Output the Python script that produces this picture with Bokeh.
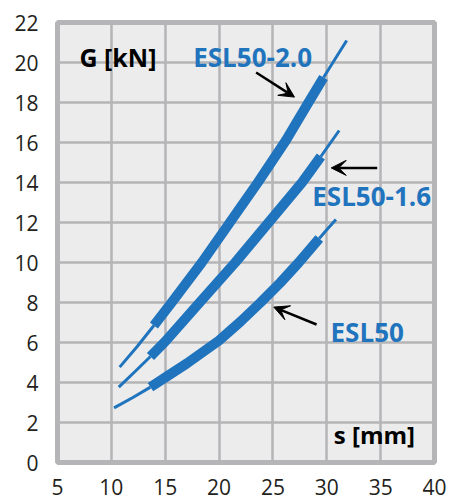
from bokeh.plotting import figure
from bokeh.models import FixedTicker, Arrow, VeeHead, Range1d
from bokeh.core.properties import value
from bokeh.embed import file_html
from bokeh.resources import INLINE

# ---- data ----
x_ticks = [5, 10, 15, 20, 25, 30, 35, 40]
y_ticks = [0, 2, 4, 6, 8, 10, 12, 14, 16, 18, 20, 22]

# ESL50-2.0 : thin start, thick (working range), thin end
s20_a = [10.77, 12.4, 13.95]
g20_a = [4.77, 5.8, 6.85]
s20_b = [13.95, 15.6, 18.4, 21.0, 23.6, 26.2, 28.3, 29.7]
g20_b = [6.85, 8.0, 10.0, 12.0, 14.0, 16.1, 18.0, 19.25]
s20_c = [29.7, 30.8, 31.85]
g20_c = [19.25, 20.2, 21.1]

# ESL50-1.6
s16_a = [10.69, 12.2, 13.63]
g16_a = [3.77, 4.55, 5.3]
s16_b = [13.63, 15.0, 18.2, 21.5, 24.6, 27.7, 29.45]
g16_b = [5.3, 6.05, 8.0, 10.0, 12.0, 14.0, 15.3]
s16_c = [29.45, 30.3, 31.15]
g16_c = [15.3, 15.95, 16.6]

# ESL50
s50_a = [10.25, 12.0, 13.63]
g50_a = [2.73, 3.25, 3.77]
s50_b = [13.63, 15.0, 17.0, 20.0, 22.0, 23.85, 25.7, 27.4, 29.3]
g50_b = [3.77, 4.25, 4.95, 6.1, 7.05, 8.0, 9.0, 10.0, 11.2]
s50_c = [29.3, 30.1, 30.85]
g50_c = [11.2, 11.7, 12.15]

BLUE = "#1f74bd"
GRID = "#b5b5b7"
TXT = "#231f20"

p = figure(width=461, height=499, output_backend="svg", toolbar_location=None,
           x_range=Range1d(5, 40), y_range=Range1d(0, 22),
           min_border_left=57, min_border_right=27, min_border_top=22,
           min_border_bottom=37)

p.background_fill_color = "#ececec"
p.border_fill_color = "white"
p.outline_line_color = GRID
p.outline_line_width = 5

p.xaxis.ticker = FixedTicker(ticks=x_ticks)
p.yaxis.ticker = FixedTicker(ticks=y_ticks)
for ax in (p.xaxis[0], p.yaxis[0]):
    ax.axis_line_color = None
    ax.major_tick_line_color = None
    ax.minor_tick_line_color = None
    ax.major_label_text_font = "Open Sans"
    ax.major_label_text_font_size = "21px"
    ax.major_label_text_color = TXT
p.xaxis.major_label_standoff = 10
p.yaxis.major_label_standoff = 13

p.xgrid.ticker = FixedTicker(ticks=x_ticks)
p.ygrid.ticker = FixedTicker(ticks=y_ticks)
p.grid.grid_line_color = GRID
p.grid.grid_line_width = 2.5

for xs, ys in [(s20_a, g20_a), (s20_c, g20_c), (s16_a, g16_a), (s16_c, g16_c),
               (s50_a, g50_a), (s50_c, g50_c)]:
    p.line(xs, ys, line_color=BLUE, line_width=3)
for xs, ys in [(s20_b, g20_b), (s16_b, g16_b), (s50_b, g50_b)]:
    p.line(xs, ys, line_color=BLUE, line_width=10, line_join="round")

# annotations
lab_x = [7.04, 17.6, 28.65, 30.35, 30.65]
lab_y = [20.28, 20.28, 13.33, 6.55, 1.42]
lab_t = ["G [kN]", "ESL50-2.0", "ESL50-1.6", "ESL50", "s [mm]"]
lab_c = ["black", BLUE, BLUE, BLUE, "black"]
lab_s = ["25px", "26px", "26px", "26px", "24px"]
p.text(x=lab_x, y=lab_y, text=lab_t, text_color=lab_c,
       text_font=value("Open Sans"), text_font_size=lab_s,
       text_font_style="bold", text_baseline="alphabetic", text_align="left")

arrows = [((23.44, 19.5), (27.0, 18.27)),
          ((34.68, 14.73), (30.41, 14.73)),
          ((29.05, 6.9), (25.08, 7.77))]
for (x0, y0), (x1, y1) in arrows:
    p.add_layout(Arrow(end=VeeHead(size=15, fill_color="black", line_color="black"),
                       x_start=x0, y_start=y0, x_end=x1, y_end=y1,
                       line_color="black", line_width=2.5))

open("out.html", "w").write(file_html(p, INLINE))
